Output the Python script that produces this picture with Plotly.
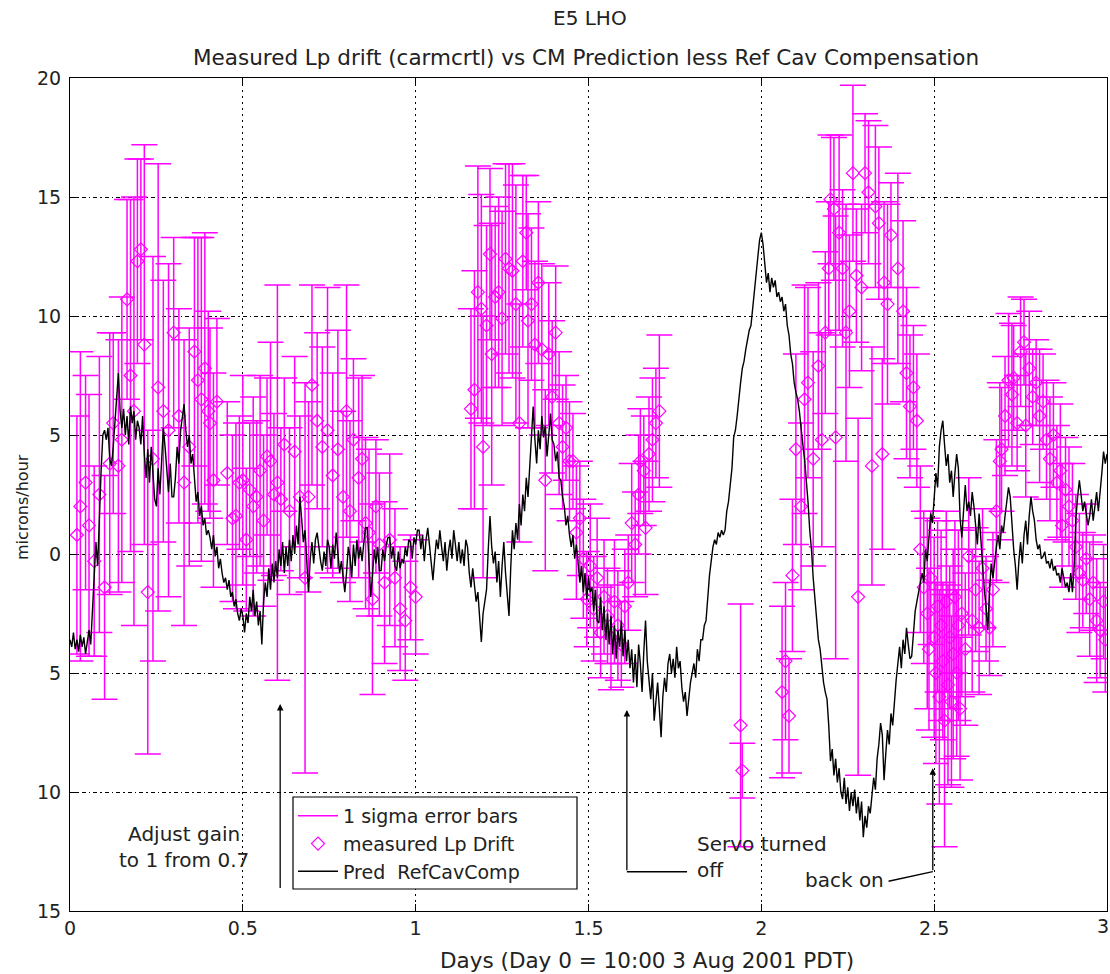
import plotly.graph_objects as go

# ---------------- data ----------------
# measured Lp drift (days, microns/hour, 1-sigma error)
meas_t = [
    0.020, 0.030, 0.045, 0.055, 0.070, 0.085, 0.100, 0.115, 0.125, 0.140,
    0.150, 0.165, 0.175, 0.185, 0.195, 0.205, 0.215, 0.225, 0.240, 0.255,
    0.270, 0.285, 0.300, 0.315, 0.330, 0.345, 0.360, 0.370, 0.380, 0.390,
    0.400, 0.405, 0.415, 0.425,
    0.455, 0.470, 0.480, 0.490, 0.500, 0.510, 0.520, 0.530, 0.540, 0.550,
    0.560, 0.570, 0.580, 0.590, 0.600, 0.610, 0.620, 0.635, 0.650, 0.665,
    0.680, 0.690, 0.700, 0.715, 0.730, 0.745, 0.760, 0.775, 0.790, 0.800,
    0.810, 0.820, 0.835, 0.845, 0.855, 0.865, 0.875, 0.885, 0.895, 0.910,
    0.925, 0.940, 0.955, 0.970, 0.985, 1.000,
    1.160, 1.170, 1.180, 1.190, 1.195, 1.205, 1.215, 1.220, 1.230, 1.240,
    1.250, 1.260, 1.270, 1.280, 1.290, 1.300, 1.310, 1.320, 1.325, 1.335,
    1.345, 1.355, 1.365, 1.375, 1.385, 1.395, 1.405, 1.415, 1.425, 1.435,
    1.445,
    1.455, 1.465, 1.475, 1.485, 1.495, 1.505, 1.515, 1.525, 1.535, 1.545,
    1.555, 1.565, 1.575, 1.585, 1.595, 1.605, 1.615, 1.625, 1.635, 1.645,
    1.650, 1.660, 1.665, 1.675, 1.685, 1.695, 1.705,
    1.940, 1.945,
    2.060, 2.070, 2.080, 2.090, 2.100, 2.115, 2.125, 2.135, 2.150, 2.165,
    2.175, 2.185, 2.195, 2.200, 2.210, 2.215, 2.225, 2.235, 2.245, 2.255,
    2.265, 2.275, 2.280, 2.290, 2.300, 2.310, 2.320, 2.330, 2.340, 2.350,
    2.355, 2.365, 2.375, 2.395, 2.410, 2.420, 2.430, 2.440, 2.450,
    2.460, 2.470, 2.480, 2.485, 2.490, 2.500, 2.505, 2.510, 2.515, 2.520,
    2.525, 2.530, 2.535, 2.540, 2.545, 2.550, 2.555, 2.560, 2.565, 2.570,
    2.575, 2.580, 2.590, 2.600, 2.610, 2.620, 2.630, 2.640, 2.650, 2.660,
    2.670,
    2.680, 2.690, 2.695, 2.705, 2.715, 2.725, 2.730, 2.740, 2.750, 2.760,
    2.765, 2.775, 2.785, 2.795, 2.805, 2.815, 2.825, 2.835, 2.845, 2.855,
    2.865, 2.870, 2.880, 2.890, 2.900, 2.910, 2.920, 2.930, 2.940, 2.950,
    2.960, 2.970, 2.980, 2.990, 2.995,
]
meas_y = [
    0.8, 2.0, 3.0, 1.2, -0.3, 2.5, -1.4, 3.8, 5.5, 3.7,
    4.8, 10.7, 7.5, 6.0, 12.3, 12.8, 8.8, -1.6, 4.0, 7.0,
    6.0, 5.2, 9.3, 5.8, 3.0, 4.5, 8.5, 7.3, 6.5, 7.8,
    6.0, 5.5, 3.1, 6.4,
    3.4, 1.5, 1.6, 3.0, 3.1, 0.6, 2.7, 2.0, 2.4, 3.5,
    1.4, 4.1, 3.9, 2.5, 3.0, 2.3, 4.6, 1.8, 4.3, 2.4,
    -1.0, 2.4, 7.1, 5.6, 4.5, 5.2, 3.3, 4.4, 2.4, 6.0,
    1.8, 4.8, 3.2, 4.0, 1.3, 0.9, -1.9, 2.0, 0.4, -1.2,
    0.6, -1.0, -2.3, -2.8, -1.4, -1.8,
    6.1, 6.9, 11.0, 10.3, 4.5, 9.6, 12.6, 8.4, 10.8, 11.0,
    9.9, 12.4, 12.0, 11.9, 10.5, 5.5, 12.3, 13.5, 9.8, 10.5,
    8.8, 11.4, 8.6, 3.1, 8.4, 6.6, 9.3, 5.5, 4.5, 5.3,
    3.9,
    3.9, 0.9, 1.5, -0.2, -1.9, -0.5, -2.3, -1.0, -3.3, -1.8,
    -2.6, -3.5, -2.0, -3.0, -3.8, -2.2, -1.2, 1.3, 0.4, 2.5,
    3.9, 3.5, 1.1, 4.2, 4.8, 5.5, 6.0,
    -7.2, -9.1,
    -5.8, -4.5, -6.8, -0.9, 4.4, 2.0, 6.5, 7.2, 4.0, 7.9,
    4.8, 9.3, 12.0, 14.9, 14.5, 4.9, 13.5, 12.0, 9.3, 10.2,
    16.0, 11.7, -1.8, 11.2, 16.0, 15.2, 3.7, 14.6, 13.9, 4.2,
    11.4, 10.5, 13.4, 12.0, 10.2, 7.6, 6.2, 7.0, 5.6,
    0.2, -1.4, -2.5, -4.0, -1.0, -3.5, -5.0, -2.2, -6.0, -3.0,
    -4.5, -7.0, -2.0, -5.5, -3.5, -6.2, -4.2, -1.8, -5.0, -3.0,
    -6.5, -2.5, -4.0, -0.1, -2.8, -1.5, -3.1, -0.6, -2.3, -3.1,
    -1.5,
    1.8, 3.9, 4.4, 5.8, 7.3, 6.7, 7.4, 5.5, 8.5, 8.9,
    5.4, 7.8, 6.6, 7.2, 5.8, 6.4, 4.8, 4.0, 5.0, 3.0,
    3.5, 1.2, 2.7, 2.0, 1.4, 0.3, -0.8, -1.1, -0.2, -1.9,
    -1.2, -2.8, -3.2, -2.0, -3.6,
]
meas_err = [
    5.0, 6.5, 4.5, 5.5, 4.0, 5.8, 4.7, 5.5, 3.8, 5.3,
    6.0, 4.2, 7.4, 9.0, 4.3, 3.8, 8.4, 6.8, 8.5, 9.4,
    5.5, 7.0, 4.0, 4.5, 6.0, 5.0, 4.8, 6.0, 6.8, 5.7,
    4.2, 4.0, 4.5, 3.5,
    3.0, 3.5, 3.9, 2.8, 4.4, 3.0, 2.8, 4.6, 3.2, 4.0,
    3.6, 3.3, 5.0, 3.4, 8.3, 3.0, 2.8, 3.5, 4.0, 3.4,
    8.2, 4.0, 4.2, 3.7, 4.2, 6.0, 4.3, 5.0, 3.6, 5.3,
    3.8, 3.4, 4.2, 3.5, 3.6, 3.5, 4.0, 2.8, 3.0, 3.4,
    3.6, 2.9, 2.6, 2.5, 2.2, 2.4,
    4.2, 5.0, 5.3, 4.8, 5.5, 4.2, 3.6, 5.5, 3.8, 4.0,
    4.5, 4.0, 4.4, 4.5, 5.0, 5.0, 3.6, 2.4, 4.5, 3.2,
    3.5, 3.4, 3.6, 3.8, 3.0, 3.2, 2.8, 3.0, 2.6, 2.2,
    2.5,
    2.0, 2.8, 2.4, 2.5, 2.0, 2.6, 2.2, 2.5, 1.9, 2.4,
    2.0, 2.2, 2.6, 2.3, 1.8, 2.4, 2.0, 2.5, 2.2, 2.5,
    2.2, 2.3, 2.8, 2.4, 2.6, 2.3, 3.2,
    5.1, 1.15,
    3.6, 3.3, 2.4, 3.2, 4.0, 3.5, 4.8, 4.0, 4.5, 3.5,
    4.5, 3.4, 2.8, 2.7, 3.0, 9.3, 4.1, 3.3, 5.4, 3.2,
    3.7, 2.8, 7.5, 3.5, 2.5, 3.0, 5.0, 3.4, 3.2, 4.0,
    3.4, 4.2, 2.2, 4.0, 3.8, 3.6, 3.0, 2.6, 2.8,
    3.5, 3.2, 4.0, 3.4, 2.8, 4.2, 3.8, 3.6, 4.5, 4.0,
    3.3, 5.3, 3.8, 4.2, 3.0, 3.6, 4.4, 3.2, 3.5, 4.0,
    3.0, 3.5, 3.2, 3.3, 3.0, 2.6, 2.8, 2.5, 2.2, 2.0,
    2.4,
    3.0, 3.3, 2.6, 2.5, 2.8, 3.0, 2.2, 2.0, 2.3, 1.8,
    3.0, 2.4, 2.0, 1.8, 2.8, 2.0, 2.5, 2.6, 2.2, 2.4,
    2.8, 2.6, 2.2, 2.5, 2.4, 2.2, 2.5, 2.0, 2.3, 2.4,
    2.0, 2.6, 2.0, 2.4, 2.2,
]

# predicted drift less RefCav compensation, sampled every 0.005 day (rows of 0.1 day)
pred_rows = [
    [-3.6, -3.9, -3.3, -4.0, -3.6, -4.1, -3.4, -3.9, -3.5, -4.2, -3.7, -3.2, -3.8, -2.5, -1.0, 0.5, -0.5, 2.0, 3.5, 5.0],
    [5.2, 4.8, 5.3, 4.0, 3.7, 4.5, 5.5, 6.5, 7.6, 6.0, 5.3, 6.1, 5.0, 5.8, 4.6, 6.2, 5.5, 6.0, 4.8, 5.6],
    [5.3, 4.6, 5.8, 4.2, 3.2, 4.4, 3.0, 4.5, 3.5, 2.3, 2.0, 3.6, 2.5, 4.2, 5.3, 4.5, 3.4, 2.6, 3.8, 2.4],
    [2.4, 3.2, 4.5, 3.8, 5.2, 5.8, 6.3, 5.2, 4.5, 5.0, 3.8, 4.2, 3.0, 2.2, 2.6, 1.6, 2.0, 1.2, 1.5, 0.8],
    [1.0, 0.7, 0.2, 0.8, -0.1, 0.3, -0.6, -0.2, -0.8, -1.2, -1.0, -1.5, -1.1, -1.8, -1.6, -2.2, -1.9, -2.5, -2.8, -2.3],
    [-2.6, -3.3, -2.5, -2.9, -1.8, -2.4, -1.5, -2.6, -2.0, -3.0, -2.4, -3.8, -2.0, -1.2, -1.8, -0.6, -1.5, -0.4, -1.2, -0.3],
    [-1.0, 0.2, -0.5, 0.5, -0.8, 0.3, -0.5, 0.6, -0.3, 0.8, 0.0, 1.2, 0.4, 2.4, 1.5, 0.5, 1.0, -0.6, -1.6, -0.2],
    [0.5, -0.4, 0.6, 0.9, 0.2, -0.3, -0.7, 0.1, -0.5, 0.6, 0.3, -0.6, 0.4, -0.2, 0.9, 0.1, -0.8, -0.3, -1.1, -1.6],
    [-0.8, 0.3, -0.1, -1.0, 0.4, -0.5, 0.6, -0.2, 0.3, -0.3, 0.5, 1.1, 1.1, -0.5, -1.8, -0.9, 0.2, -0.4, 0.3, -0.7],
    [-0.7, 0.2, -0.3, 0.4, 0.7, 0.7, -0.2, 0.3, -0.5, -0.7, 0.1, -0.6, -0.2, -0.4, 0.3, -0.1, 0.6, 0.5, -0.2, 0.7],
    [0.4, 1.0, 1.0, 0.2, 0.8, -0.3, 0.6, 1.1, 0.3, -0.4, -1.1, -0.2, 0.6, 0.2, 1.0, 0.3, -0.3, 0.5, -0.7, 0.1],
    [0.6, -0.2, 1.0, 0.4, -0.3, 0.5, -0.4, 0.2, -0.5, 0.6, 0.3, -0.8, -1.4, -0.6, -1.2, -2.0, -1.6, -2.8, -3.7, -2.5],
    [-1.9, -1.5, 0.2, 1.6, 0.3, -0.4, 0.1, -1.2, -0.3, -1.8, -0.5, 0.5, -0.8, -1.9, -2.6, -0.6, 1.0, 0.2, 1.3, 0.6],
    [2.1, 1.2, 2.5, 1.8, 3.2, 2.4, 3.8, 5.0, 6.2, 4.8, 3.8, 5.2, 4.4, 5.8, 4.9, 5.4, 4.1, 5.0, 5.9, 4.8],
    [4.6, 3.9, 4.3, 3.2, 3.1, 2.4, 2.0, 1.2, 1.6, 0.8, 0.3, 0.8, -0.2, 0.4, -0.6, -1.2, -0.5, -1.6, -0.8, -1.9],
    [-1.0, -1.6, -1.4, -2.4, -1.5, -2.8, -2.9, -1.8, -3.2, -2.2, -3.6, -2.5, -3.8, -2.6, -4.2, -3.0, -4.4, -3.2, -3.9, -2.8],
    [-4.3, -3.2, -4.5, -3.6, -4.8, -4.0, -5.4, -4.2, -5.6, -3.8, -4.6, -5.8, -4.1, -2.8, -4.5, -5.2, -6.1, -5.0, -7.0, -6.2],
    [-5.4, -6.5, -7.7, -6.0, -5.2, -5.8, -4.6, -4.2, -5.0, -4.4, -5.2, -3.9, -4.8, -4.5, -5.6, -6.2, -5.8, -6.8, -6.1, -5.4],
    [-5.0, -4.6, -5.2, -4.0, -4.5, -3.6, -3.6, -3.0, -2.8, -1.8, -0.9, -0.3, 0.3, 0.6, 0.4, 0.9, 0.7, 1.0, 0.8, 1.0],
    [1.8, 2.2, 2.8, 3.6, 4.9, 5.2, 5.8, 6.6, 7.2, 7.8, 8.1, 8.6, 9.0, 9.4, 9.6, 10.4, 11.1, 11.8, 12.5, 13.2],
    [13.5, 13.0, 12.2, 11.4, 11.8, 11.0, 11.6, 11.2, 11.5, 10.8, 11.0, 10.6, 10.8, 10.2, 10.5, 9.6, 9.2, 8.4, 8.0, 7.2],
    [6.8, 6.5, 6.0, 5.2, 4.6, 4.0, 3.2, 2.2, 1.0, 0.2, -1.0, -1.9, -2.8, -3.6, -4.0, -4.8, -5.4, -5.8, -6.1, -7.2],
    [-8.7, -8.2, -9.3, -8.6, -9.6, -9.0, -10.0, -10.3, -9.4, -10.5, -9.8, -10.8, -10.0, -10.6, -9.9, -10.9, -10.2, -11.2, -10.4, -11.9],
    [-11.0, -11.5, -10.6, -10.9, -10.2, -9.4, -9.9, -8.6, -8.0, -7.1, -7.6, -9.5, -8.4, -7.4, -8.0, -6.7, -7.2, -6.0, -5.3, -4.6],
    [-3.9, -4.8, -3.6, -4.2, -3.1, -3.8, -4.4, -4.3, -3.2, -2.4, -2.0, -1.6, -1.1, -0.8, -1.2, 0.2, -0.3, 0.8, 1.7, 1.3],
    [2.6, 3.4, 2.8, 4.5, 5.2, 5.6, 4.6, 3.7, 4.2, 3.0, 3.5, 2.4, 3.4, 4.2, 3.6, 1.5, 0.7, 2.0, 2.9, 1.8],
    [2.2, 1.6, 2.6, 2.0, 1.2, 0.4, 1.7, 0.6, -0.5, -1.5, -2.2, -3.2, -1.6, -0.4, -1.0, -0.2, 0.3, 0.8, 0.2, 1.2],
    [0.9, 1.6, 2.2, 2.8, 2.4, 1.0, 0.2, -0.5, -1.5, -0.3, 0.5, -0.4, 0.8, 1.4, 0.4, 1.6, 2.4, 1.8, 1.4, 0.6],
    [0.2, 0.4, -0.2, -0.1, 0.1, -0.4, -0.3, -0.6, -0.2, -0.7, -0.5, -0.9, -0.8, -1.2, -0.6, -1.0, -1.4, -1.2, -1.6, -0.8],
    [-1.6, -0.5, 1.5, 2.4, 3.1, 2.5, 1.8, 2.2, 1.7, 1.2, 1.6, 2.3, 1.4, 2.0, 2.6, 1.8, 2.5, 3.4, 4.3, 3.8],
    [4.2],
]
pred_step = 0.005

x_ticks = [0, 0.5, 1, 1.5, 2, 2.5, 3]
x_ticklabels = ["0", "0.5", "1", "1.5", "2", "2.5", "3"]
y_ticks = [-15, -10, -5, 0, 5, 10, 15, 20]
y_ticklabels = ["15", "10", "5", "0", "5", "10", "15", "20"]

# ---------------- figure ----------------
pred_y = [v for row in pred_rows for v in row]
pred_t = [round(i * pred_step, 4) for i in range(len(pred_y))]

MAG = "#ff00ff"
FONT = "DejaVu Sans"
TXT = "#222222"

fig = go.Figure()
fig.add_trace(go.Scatter(
    x=[None], y=[None], mode="lines", name="1 sigma error bars",
    line=dict(color=MAG, width=1.5)))
fig.add_trace(go.Scatter(
    x=meas_t, y=meas_y, mode="markers", name="measured Lp Drift",
    marker=dict(symbol="diamond-open", size=10, color=MAG, line=dict(width=1.2, color=MAG)),
    error_y=dict(type="data", array=meas_err, visible=True, color=MAG, thickness=1.5, width=13)))
fig.add_trace(go.Scatter(
    x=pred_t, y=pred_y, mode="lines", name="Pred\u00a0\u00a0RefCavComp",
    line=dict(color="black", width=1.4)))

axis_common = dict(
    showline=True, linecolor="black", linewidth=1.2, mirror="ticks",
    ticks="inside", ticklen=7, tickcolor="black", tickwidth=1.2,
    showgrid=True, gridcolor="black", gridwidth=1.4, zeroline=False,
    tickfont=dict(family=FONT, size=19, color=TXT),
)
# the last x tick label sits at the very edge of the picture: drawn as an annotation
x_ticklabels_axis = [t if v != 3 else "" for v, t in zip(x_ticks, x_ticklabels)]
fig.update_xaxes(range=[0, 3], tickvals=x_ticks, ticktext=x_ticklabels_axis,
                 griddash="2px,4px", **axis_common)
fig.update_yaxes(range=[-15, 20], tickvals=y_ticks, ticktext=y_ticklabels,
                 griddash="4px,3px,1.5px,3px", ticklabelstandoff=4, **axis_common)


def py(p):
    """paper y from a pixel row (plot area 78..911)."""
    return (911 - p) / 833


def px(p):
    """paper x from a pixel column (plot area 70..1107)."""
    return (p - 70) / 1037


annotations = [
    dict(text="E5 LHO", x=px(590), y=py(18), xref="paper", yref="paper",
         yanchor="middle", showarrow=False, font=dict(size=20)),
    dict(text="Measured Lp drift (carmcrtl) vs CM Prediction less Ref Cav Compensation",
         x=px(586), y=py(58), xref="paper", yref="paper", yanchor="middle",
         showarrow=False, font=dict(size=21.5)),
    dict(text="Days (Day 0 = 10:00 3 Aug 2001 PDT)", x=px(647), y=py(960),
         xref="paper", yref="paper", yanchor="middle", showarrow=False, font=dict(size=21.5)),
    dict(text="microns/hour", x=px(22), y=py(507), xref="paper", yref="paper",
         xanchor="center", yanchor="middle",
         textangle=-90, showarrow=False, font=dict(size=16)),
    dict(text=x_ticklabels[-1], x=x_ticks[-1], y=py(926), xref="x", yref="paper",
         xanchor="center", yanchor="middle", xshift=-4, showarrow=False, font=dict(size=19)),
    dict(text="Adjust gain<br>to 1 from 0.7", x=0.331, y=-12.31, xref="x", yref="y",
         yanchor="middle", showarrow=False, align="center", font=dict(size=20)),
    dict(text="Servo turned<br>off", x=1.808, y=-12.73, xref="x", yref="y",
         xanchor="left", yanchor="middle", showarrow=False, align="left", font=dict(size=20)),
    dict(text="back on", x=2.36, y=-13.7, xref="x", yref="y",
         xanchor="right", yanchor="middle", showarrow=False, font=dict(size=20)),
    # arrows
    dict(x=0.608, y=-6.3, ax=0.608, ay=-14.1, xref="x", yref="y", axref="x", ayref="y",
         text="", showarrow=True, arrowhead=2, arrowsize=1, arrowwidth=1.3, arrowcolor="black"),
    dict(x=1.611, y=-6.55, ax=1.611, ay=-13.35, xref="x", yref="y", axref="x", ayref="y",
         text="", showarrow=True, arrowhead=2, arrowsize=1, arrowwidth=1.3, arrowcolor="black"),
    dict(x=2.496, y=-9.0, ax=2.496, ay=-13.35, xref="x", yref="y", axref="x", ayref="y",
         text="", showarrow=True, arrowhead=2, arrowsize=1, arrowwidth=1.3, arrowcolor="black"),
]
for a in annotations:
    a.setdefault("font", {})
    a["font"].setdefault("family", FONT)
    a["font"].setdefault("color", TXT)

shapes = [
    dict(type="line", xref="x", yref="y", x0=1.611, y0=-13.35, x1=1.785, y1=-13.35,
         line=dict(color="black", width=1.3)),
    dict(type="line", xref="x", yref="y", x0=2.368, y0=-13.75, x1=2.496, y1=-13.35,
         line=dict(color="black", width=1.3)),
    # legend frame (the legend itself is drawn transparent on top of it)
    dict(type="rect", xref="paper", yref="paper", layer="above",
         x0=px(293), x1=px(577), y0=py(889), y1=py(797),
         fillcolor="white", line=dict(color="black", width=1.2)),
]

fig.update_layout(
    width=1110, height=974,
    margin=dict(l=70, r=3, t=78, b=63),
    paper_bgcolor="white", plot_bgcolor="white",
    font=dict(family=FONT, color=TXT),
    showlegend=True,
    legend=dict(x=px(293), y=py(797), xanchor="left", yanchor="top",
                bgcolor="rgba(0,0,0,0)", borderwidth=0,
                font=dict(family=FONT, size=19, color=TXT),
                tracegroupgap=0, itemwidth=40),
    annotations=annotations,
    shapes=shapes,
)

fig.write_html("out.html")
